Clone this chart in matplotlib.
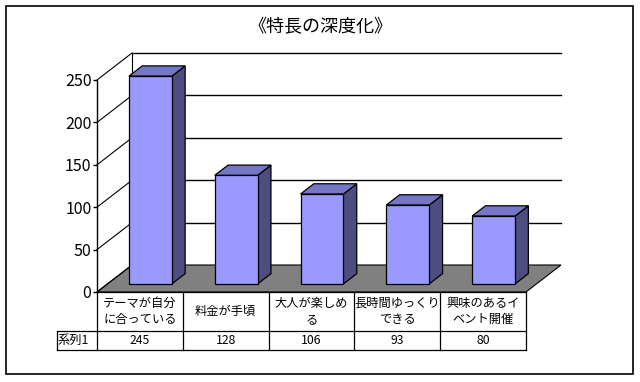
import matplotlib
matplotlib.use("Agg")
import matplotlib.pyplot as plt
from matplotlib.patches import Polygon, Rectangle

plt.rcParams['font.family'] = ['Noto Sans CJK JP', 'DejaVu Sans']

# data
categories = ["テーマが自分\nに合っている", "料金が手頃", "大人が楽しめ\nる", "長時間ゆっくり\nできる", "興味のあるイ\nベント開催"]
values = [245, 128, 106, 93, 80]
series_name = "系列1"
yticks = [0, 50, 100, 150, 200, 250]
title = "《特長の深度化》"

W, H = 640, 382
fig = plt.figure(figsize=(W / 100, H / 100), dpi=100)
fig.patch.set_facecolor("white")

# outer frame
fig.add_artist(Rectangle((6 / W, (H - 374) / H), 627 / W, 368 / H, transform=fig.transFigure,
                         fill=False, edgecolor="black", linewidth=1.2))

fig.text(320 / W, 1 - 27 / H, title, ha="center", va="center", fontsize=13)

# front plane of the plot: x 97..526 px, y 292..80 px
ax = fig.add_axes([97 / W, (H - 292) / H, 429 / W, 212 / H])
n = len(values)
ax.set_xlim(0, n)
ax.set_ylim(0, 250)
ax.patch.set_visible(False)
for s in ["top", "right", "bottom"]:
    ax.spines[s].set_visible(False)
ax.spines["left"].set_linewidth(1)
ax.set_xticks([])
ax.set_yticks(yticks)
ax.tick_params(axis="y", length=3, width=1, pad=1, labelsize=11.5)

px_x = 429 / n      # px per category
px_y = 212 / 250    # px per unit

# depth offset (in data units)
dx = 35 / px_x
dy = 27 / px_y

# floor
ax.add_patch(Polygon([(0, 0), (n, 0), (n + dx, dy), (dx, dy)], closed=True,
                     facecolor="#808080", edgecolor="black", linewidth=0.8, clip_on=False, zorder=1))
# back wall grid + left wall diagonals
for v in yticks:
    if v > 0:
        ax.plot([dx, n + dx], [v + dy, v + dy], color="black", lw=1, clip_on=False, zorder=1)
    ax.plot([0, dx], [v, v + dy], color="black", lw=0.8, clip_on=False, zorder=1)
ax.plot([dx, dx], [dy, 250 + dy], color="black", lw=0.8, clip_on=False, zorder=1)

# 3d bars
z0, z1 = 0.30, 0.68
bw = 0.5
for i, v in enumerate(values):
    xl = i + 0.5 - bw / 2 + z0 * dx
    xr = xl + bw
    yb = z0 * dy
    yt = v + yb
    ddx = (z1 - z0) * dx
    ddy = (z1 - z0) * dy
    side = [(xr, yb), (xr + ddx, yb + ddy), (xr + ddx, yt + ddy), (xr, yt)]
    top = [(xl, yt), (xr, yt), (xr + ddx, yt + ddy), (xl + ddx, yt + ddy)]
    front = [(xl, yb), (xr, yb), (xr, yt), (xl, yt)]
    for pts, c in [(side, "#4D4D80"), (top, "#7676C6"), (front, "#9999FF")]:
        ax.add_patch(Polygon(pts, closed=True, facecolor=c, edgecolor="black",
                             linewidth=0.9, clip_on=False, zorder=3))

# data table under the plot
y_mid = -39 / px_y          # border between header row and value row
y_bot = -58 / px_y
x_lab = -40 / px_x          # left edge of the series-name cell
kw = dict(color="black", lw=0.9, clip_on=False)
ax.plot([0, n], [0, 0], **kw)
ax.plot([x_lab, n], [y_mid, y_mid], **kw)
ax.plot([x_lab, n], [y_bot, y_bot], **kw)
ax.plot([x_lab, x_lab], [y_mid, y_bot], **kw)
for i in range(n + 1):
    ax.plot([i, i], [0, y_bot], **kw)
fs = 8.8
for i, (cat, v) in enumerate(zip(categories, values)):
    ax.text(i + 0.5, y_mid / 2, cat, ha="center", va="center", fontsize=fs,
            linespacing=1.3, clip_on=False)
    ax.text(i + 0.5, (y_mid + y_bot) / 2, str(v), ha="center", va="center", fontsize=fs,
            clip_on=False)
ax.text(x_lab + 1 / px_x, (y_mid + y_bot) / 2, series_name, ha="left", va="center",
        fontsize=fs, clip_on=False)

fig.savefig("out.png", dpi=100)
